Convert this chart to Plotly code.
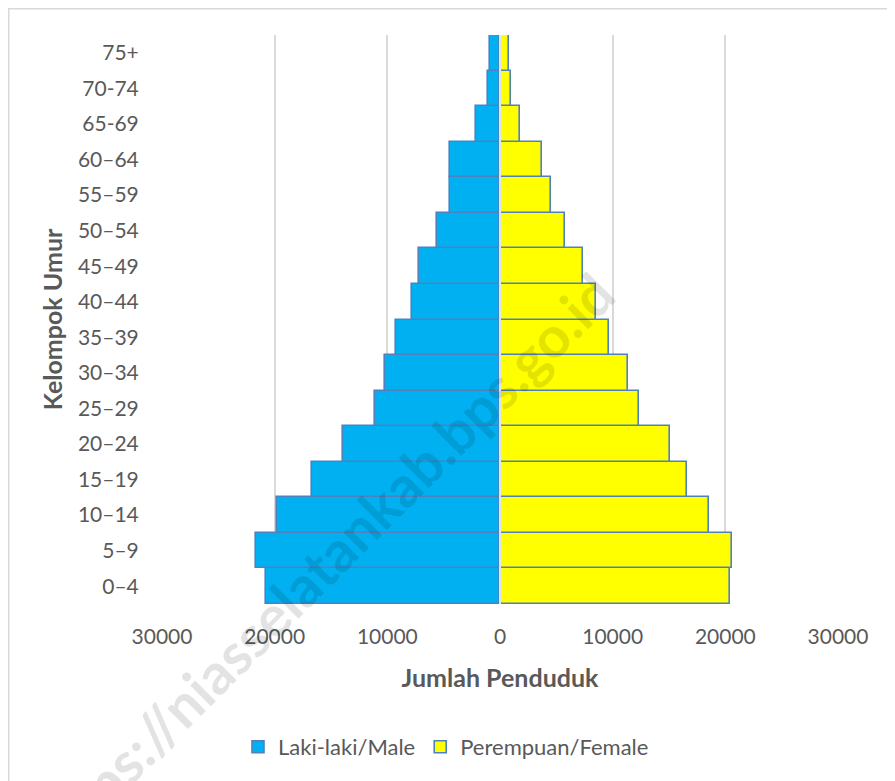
import plotly.graph_objects as go

# ---- data ----
age_groups = ["0–4", "5–9", "10–14", "15–19", "20–24", "25–29", "30–34", "35–39",
              "40–44", "45–49", "50–54", "55–59", "60–64", "65-69", "70-74", "75+"]
male = [20750, 21680, 19780, 16730, 13930, 11080, 10170, 9190,
        7780, 7220, 5610, 4420, 4470, 2160, 1070, 860]
female = [20440, 20590, 18520, 16620, 15110, 12330, 11330, 9670,
          8480, 7330, 5810, 4530, 3760, 1810, 1000, 800]
tick_vals = [-30000, -20000, -10000, 0, 10000, 20000, 30000]
tick_text = ["30000", "20000", "10000", "0", "10000", "20000", "30000"]

# the page places the figure at an 8px body offset
W, H = 887, 773
ML, MT = 154, 27
PW, PH = 676, 569
MR, MB = W - ML - PW, H - MT - PH

def px_x(p):
    return (p - ML) / PW

def px_y(p):
    return (H - MB - p) / PH

FONT = "Lato"
GREY = "#595959"
EDGE = "#4f81bd"

fig = go.Figure()
fig.add_trace(go.Bar(
    y=age_groups, x=[-v for v in male], orientation="h",
    name="Laki-laki/Male", customdata=male,
    hovertemplate="%{y}: %{customdata}<extra>Laki-laki/Male</extra>",
    marker=dict(color="#00b0f0", line=dict(color=EDGE, width=1.6)),
))
fig.add_trace(go.Bar(
    y=age_groups, x=female, orientation="h",
    name="Perempuan/Female",
    hovertemplate="%{y}: %{x}<extra>Perempuan/Female</extra>",
    marker=dict(color="#ffff00", line=dict(color=EDGE, width=1.6)),
))

fig.update_layout(
    width=W, height=H,
    margin=dict(l=ML, r=MR, t=MT, b=MB, autoexpand=False),
    paper_bgcolor="white", plot_bgcolor="white",
    barmode="relative", bargap=0,
    font=dict(family=FONT, size=21, color=GREY),
    showlegend=True,
    legend=dict(orientation="h", x=px_x(230), xanchor="left",
                y=px_y(739), yanchor="middle",
                font=dict(family=FONT, size=22, color=GREY),
                traceorder="normal", itemwidth=30),
    xaxis=dict(range=[-30000, 30000], tickvals=tick_vals, ticktext=tick_text,
               showgrid=True, gridcolor="#d9d9d9", gridwidth=1.5,
               zeroline=False, showline=False,
               ticks="outside", ticklen=14, tickcolor="rgba(0,0,0,0)",
               tickfont=dict(family=FONT, size=21, color=GREY),
               title=dict(text="<b>Jumlah Penduduk</b>", standoff=22,
                          font=dict(family=FONT, size=25, color=GREY)),
               automargin=False, fixedrange=True),
    yaxis=dict(type="category", categoryorder="array", categoryarray=age_groups,
               showgrid=False, zeroline=False, showline=False,
               ticks="outside", ticklen=18, tickcolor="rgba(0,0,0,0)",
               tickfont=dict(family=FONT, size=21, color=GREY),
               title=dict(text="<b>Kelompok Umur</b>", standoff=8,
                          font=dict(family=FONT, size=25, color=GREY)),
               automargin=False, fixedrange=True),
)

# light separator line between the two halves at x = 0
fig.add_shape(type="line", xref="x", yref="paper", x0=0, x1=0, y0=0, y1=1,
              line=dict(color="#dce6f2", width=2), layer="above")

# chart-area border (light grey)
fig.add_shape(type="rect", xref="paper", yref="paper",
              x0=px_x(0.75), x1=px_x(W + 20), y0=px_y(H + 20), y1=px_y(0.75),
              line=dict(color="#d9d9d9", width=1.5), fillcolor="rgba(0,0,0,0)",
              layer="below")

# watermark (partly cut off at the bottom-left edge, as in the reference)
fig.add_annotation(text="<b>https://niasselatankab.bps.go.id</b>",
                   xref="paper", yref="paper", x=px_x(314), y=px_y(556),
                   xanchor="center", yanchor="middle",
                   showarrow=False, textangle=-45,
                   font=dict(family=FONT, size=57, color="rgba(0,0,0,0.11)"))

fig.write_html("out.html")
